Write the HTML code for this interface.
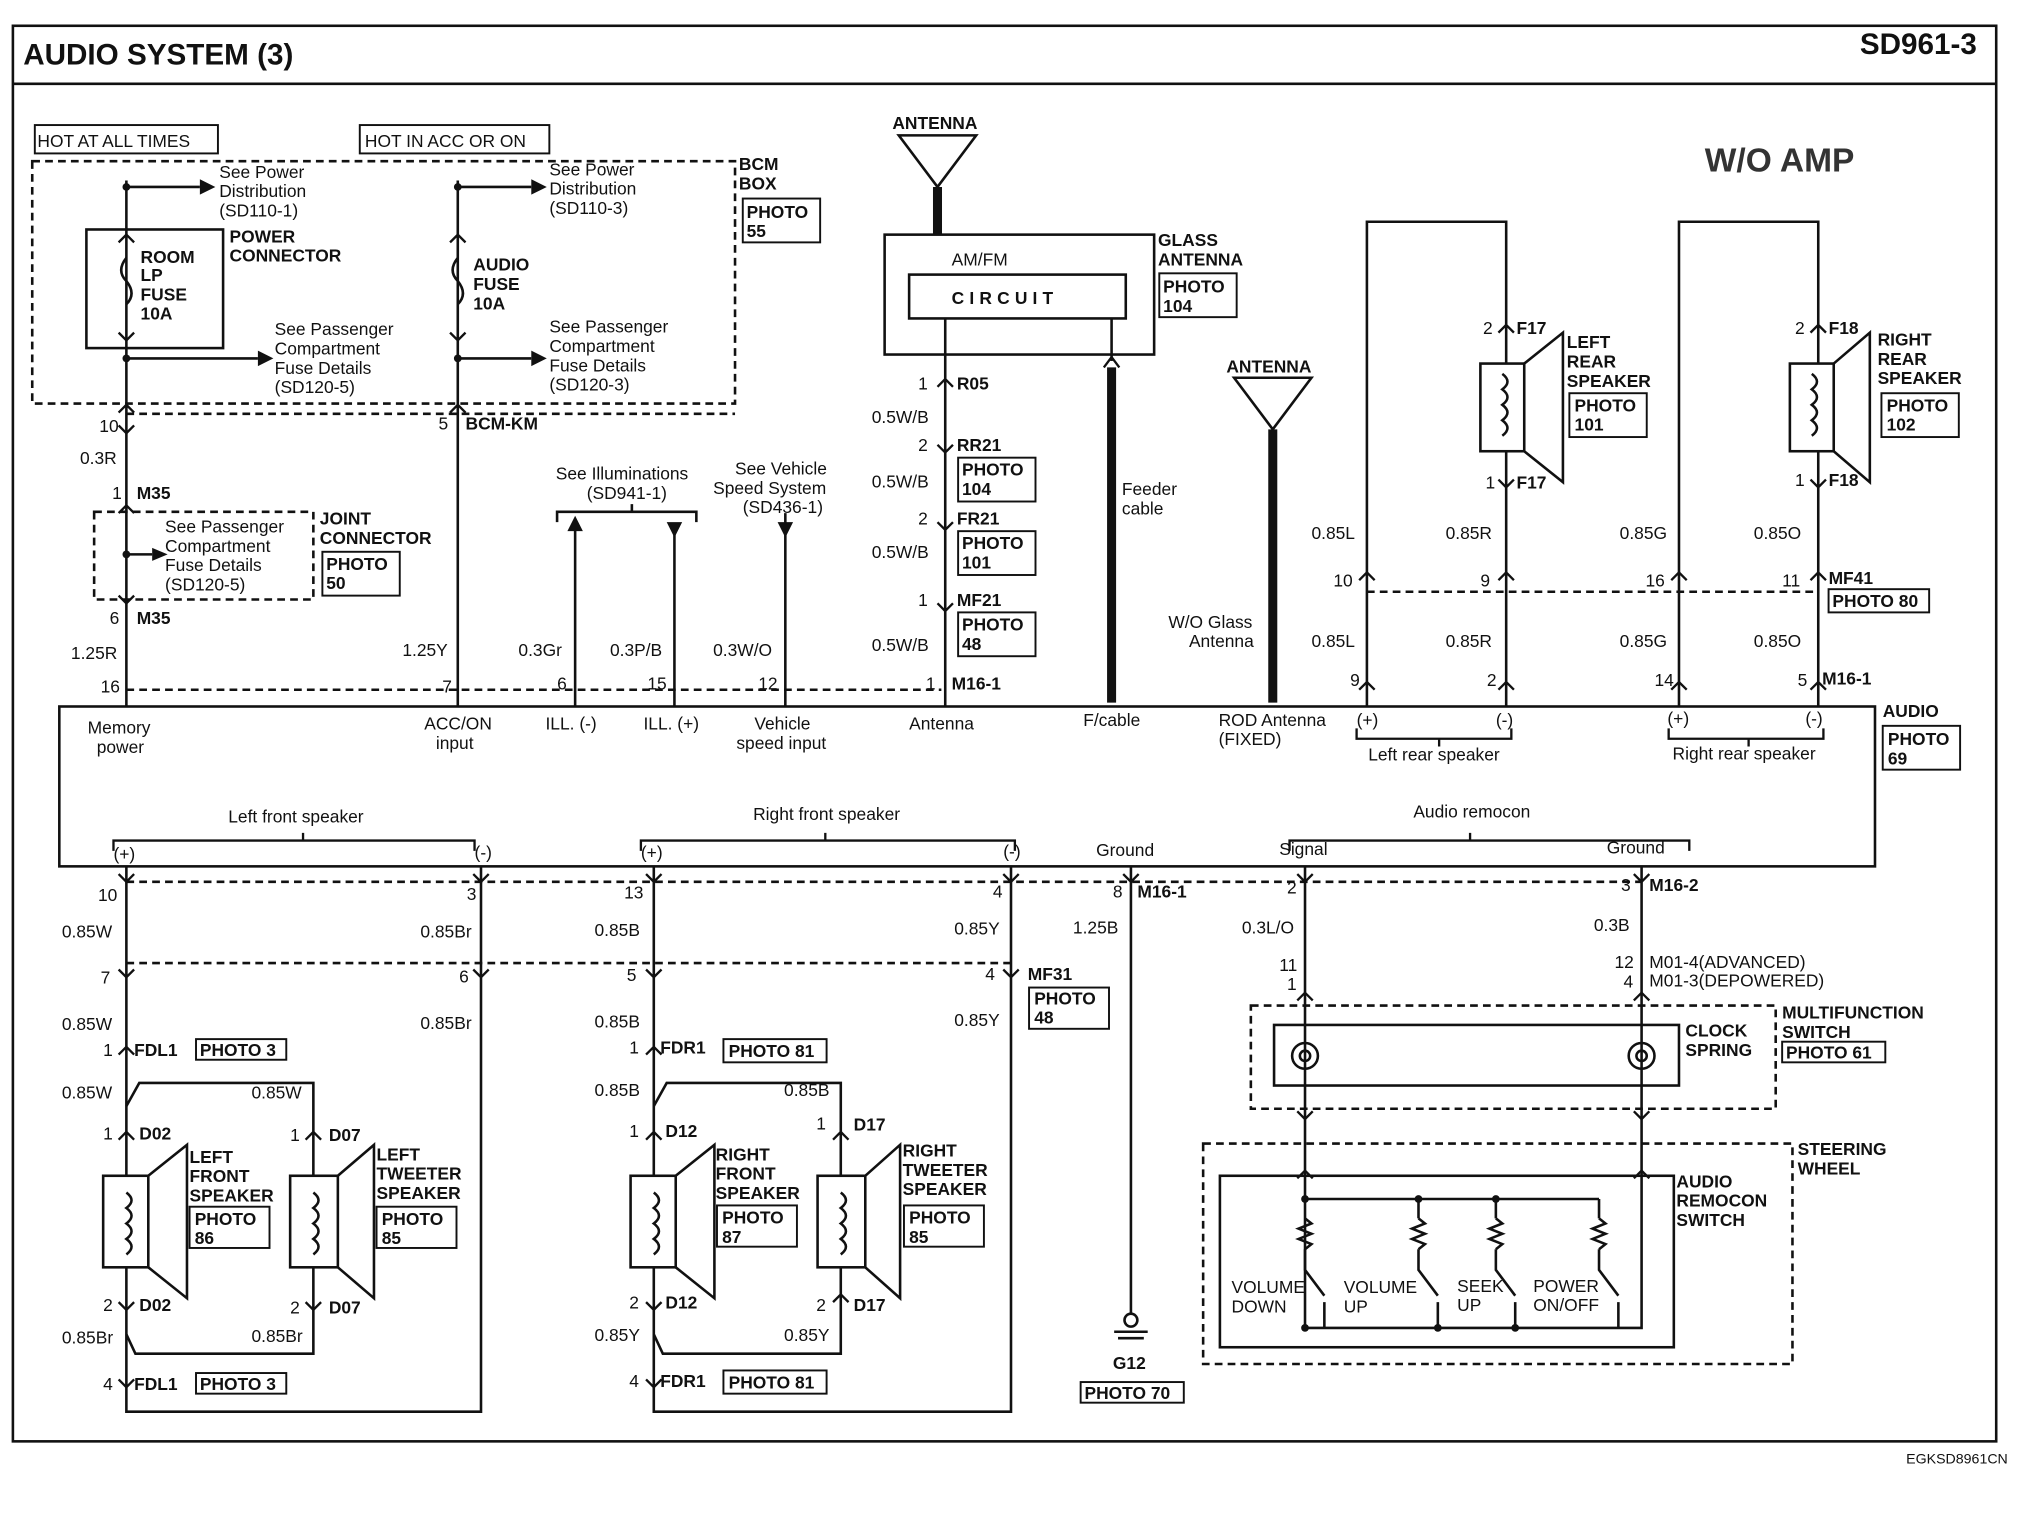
<!DOCTYPE html>
<html><head><meta charset="utf-8"><style>
html,body{margin:0;padding:0;background:#fff}
svg{display:block}
text{font-family:"Liberation Sans",Arial,sans-serif;font-size:13.5px;fill:#111}
.b{font-weight:bold}
</style></head><body>
<svg width="2022" height="1520" viewBox="0 0 1568 1179" preserveAspectRatio="none" xmlns="http://www.w3.org/2000/svg">
<g fill="none" stroke="#111" stroke-width="2">
<rect x="10" y="20" width="1538" height="1098"/>
<line x1="10" y1="65" x2="1548" y2="65"/>
<rect x="27" y="97" width="142" height="22" stroke-width="1.5"/>
<rect x="279" y="97" width="147" height="22" stroke-width="1.5"/>
<rect x="25" y="125" width="545" height="188" stroke-dasharray="6,4"/>
<rect x="67" y="178" width="106" height="92"/>
<line x1="98" y1="140" x2="98" y2="548"/>
<line x1="355" y1="140" x2="355" y2="548"/>
<line x1="98" y1="145" x2="155" y2="145"/><line x1="98" y1="278" x2="200" y2="278"/>
<line x1="355" y1="145" x2="412" y2="145"/><line x1="355" y1="278" x2="412" y2="278"/>
<path d="M355 200 q-8 10 0 18 q8 10 0 18"/>
<path d="M98 200 q-8 10 0 18 q8 10 0 18"/>
<line x1="98" y1="321" x2="570" y2="321" stroke-dasharray="6,4"/>
<rect x="73" y="397" width="170" height="68" stroke-dasharray="6,4"/>
<line x1="98" y1="430" x2="118" y2="430"/>
<line x1="98" y1="535" x2="730" y2="535" stroke-dasharray="6,4"/>
<rect x="46" y="548" width="1408" height="124"/>
<line x1="446" y1="405" x2="446" y2="548"/><line x1="523" y1="410" x2="523" y2="548"/><line x1="609" y1="410" x2="609" y2="548"/>
<path d="M432 405 v-8 h108 v8 M490 397 v-6"/>
<line x1="609" y1="398" x2="609" y2="406"/>
<path d="M697 105 L757 105 L727 145 Z"/>
<line x1="727" y1="145" x2="727" y2="182" stroke-width="7"/>
<rect x="686" y="182" width="209" height="93"/>
<rect x="705" y="213" width="168" height="34"/>
<line x1="733" y1="247" x2="733" y2="548"/>
<line x1="862" y1="247" x2="862" y2="280"/>
<line x1="862" y1="285" x2="862" y2="545" stroke-width="7"/>
<path d="M957 293 L1017 293 L987 333 Z"/>
<line x1="987" y1="333" x2="987" y2="545" stroke-width="7"/>
<path d="M1060 548 V172 H1168 V282 M1168 350 V548"/>
<rect x="1148" y="282" width="34" height="68"/><path d="M1182 282 L1212 258 V374 L1182 350"/>
<path d="M1165 290 q8 6 0 12 q8 6 0 12 q8 6 0 12 q8 6 0 12"/>
<path d="M1302 548 V172 H1410 V282 M1410 350 V548"/>
<rect x="1388" y="282" width="34" height="68"/><path d="M1422 282 L1450 258 V374 L1422 350"/>
<path d="M1405 290 q8 6 0 12 q8 6 0 12 q8 6 0 12 q8 6 0 12"/>
<line x1="1060" y1="459" x2="1410" y2="459" stroke-dasharray="6,4"/>
<line x1="98" y1="684" x2="1273" y2="684" stroke-dasharray="6,4"/>
<line x1="98" y1="747" x2="784" y2="747" stroke-dasharray="6,4"/>
<path d="M98 672 V912 M98 983 V1095 H373 V672"/>
<path d="M98 858 L108 840 H243 V912 M243 983 V1050 H105 L98 1035"/>
<rect x="80" y="912" width="35" height="71"/><path d="M115 912 L145 888 V1007 L115 983"/>
<rect x="225" y="912" width="37" height="71"/><path d="M262 912 L290 888 V1007 L262 983"/>
<path d="M98 925 q8 6 0 12 q8 6 0 12 q8 6 0 12 q8 6 0 12"/>
<path d="M243 925 q8 6 0 12 q8 6 0 12 q8 6 0 12 q8 6 0 12"/>
<path d="M507 672 V912 M507 983 V1095 H784 V672"/>
<path d="M507 858 L517 840 H652 V912 M652 983 V1050 H514 L507 1035"/>
<rect x="489" y="912" width="35" height="71"/><path d="M524 912 L554 888 V1007 L524 983"/>
<rect x="634" y="912" width="37" height="71"/><path d="M671 912 L698 888 V1007 L671 983"/>
<path d="M507 925 q8 6 0 12 q8 6 0 12 q8 6 0 12 q8 6 0 12"/>
<path d="M652 925 q8 6 0 12 q8 6 0 12 q8 6 0 12 q8 6 0 12"/>
<line x1="877" y1="672" x2="877" y2="1020"/>
<circle cx="877" cy="1024" r="5"/><line x1="864" y1="1033" x2="890" y2="1033"/><line x1="867" y1="1038" x2="887" y2="1038"/>
<line x1="1012" y1="672" x2="1012" y2="912"/><line x1="1273" y1="672" x2="1273" y2="912"/>
<rect x="970" y="780" width="407" height="80" stroke-dasharray="6,4"/>
<rect x="988" y="795" width="314" height="47"/>
<circle cx="1012" cy="819" r="10"/><circle cx="1012" cy="819" r="4"/>
<circle cx="1273" cy="819" r="10"/><circle cx="1273" cy="819" r="4"/>
<rect x="933" y="887" width="457" height="171" stroke-dasharray="6,4"/>
<rect x="946" y="912" width="352" height="133"/>
<path d="M1012 912 V1030 H1273 V912"/>
<path d="M1012 930 H1240 M1100 930 V945 M1160 930 V945 M1240 930 V945"/>
<path d="M1012 945 l5 4 l-10 4 l10 4 l-10 4 l10 4 l-5 4 M1100 945 l5 4 l-10 4 l10 4 l-10 4 l10 4 l-5 4 M1160 945 l5 4 l-10 4 l10 4 l-10 4 l10 4 l-5 4 M1240 945 l5 4 l-10 4 l10 4 l-10 4 l10 4 l-5 4"/>
<path d="M1012 969 V985 l15 20 M1100 969 V985 l15 20 M1160 969 V985 l15 20 M1240 969 V985 l15 20 M1027 1010 V1030 M1115 1010 V1030 M1175 1010 V1030 M1255 1010 V1030"/>
<g stroke-width="1.5">
<rect x="576" y="154" width="60" height="34"/><rect x="250" y="428" width="60" height="34"/>
<rect x="899" y="212" width="60" height="34"/><rect x="743" y="355" width="60" height="34"/>
<rect x="743" y="412" width="60" height="34"/><rect x="743" y="475" width="60" height="34"/>
<rect x="1217" y="305" width="60" height="34"/><rect x="1459" y="305" width="60" height="34"/>
<rect x="1418" y="457" width="78" height="18"/><rect x="1460" y="563" width="60" height="34"/>
<rect x="152" y="806" width="70" height="16"/><rect x="152" y="1065" width="70" height="16"/>
<rect x="561" y="806" width="80" height="18"/><rect x="561" y="1063" width="80" height="18"/>
<rect x="147" y="936" width="62" height="32"/><rect x="292" y="936" width="62" height="32"/>
<rect x="556" y="935" width="62" height="32"/><rect x="701" y="935" width="62" height="32"/>
<rect x="798" y="766" width="62" height="32"/><rect x="838" y="1072" width="80" height="16"/>
<rect x="1382" y="808" width="80" height="16"/>
</g>
<g stroke-width="1.8">
<path d="M92 320 l6 -6 l6 6 M92 330 l6 6 l6 -6 M349 320 l6 -6 l6 6"/>
<path d="M92 398 l6 -6 l6 6 M92 462 l6 6 l6 -6 M92 188 l6 -6 l6 6 M92 258 l6 6 l6 -6 M349 188 l6 -6 l6 6 M349 258 l6 6 l6 -6"/>
<path d="M727 300 l6 -6 l6 6 M727 345 l6 6 l6 -6 M727 405 l6 6 l6 -6 M727 468 l6 6 l6 -6"/>
<path d="M1162 258 l6 -6 l6 6 M1162 372 l6 6 l6 -6 M1404 258 l6 -6 l6 6 M1404 372 l6 6 l6 -6 M856 285 l6 -8 l6 8"/>
<path d="M1054 450 l6 -6 l6 6 M1162 450 l6 -6 l6 6 M1296 450 l6 -6 l6 6 M1404 450 l6 -6 l6 6"/>
<path d="M1054 535 l6 -6 l6 6 M1162 535 l6 -6 l6 6 M1296 535 l6 -6 l6 6 M1404 535 l6 -6 l6 6"/>
<path d="M92 678 l6 6 l6 -6 M367 678 l6 6 l6 -6 M501 678 l6 6 l6 -6 M778 678 l6 6 l6 -6 M871 678 l6 6 l6 -6 M1006 678 l6 6 l6 -6 M1267 678 l6 6 l6 -6"/>
<path d="M92 752 l6 6 l6 -6 M367 752 l6 6 l6 -6 M501 752 l6 6 l6 -6 M778 752 l6 6 l6 -6"/>
<path d="M92 818 l6 -6 l6 6 M501 818 l6 -6 l6 6 M92 884 l6 -6 l6 6 M237 884 l6 -6 l6 6 M501 884 l6 -6 l6 6 M646 884 l6 -6 l6 6"/>
<path d="M92 1010 l6 6 l6 -6 M237 1010 l6 6 l6 -6 M501 1010 l6 6 l6 -6 M646 1010 l6 -6 l6 6 M92 1070 l6 6 l6 -6 M501 1070 l6 6 l6 -6"/>
<path d="M1006 776 l6 -6 l6 6 M1267 776 l6 -6 l6 6 M1006 862 l6 6 l6 -6 M1267 862 l6 6 l6 -6 M1006 914 l6 -6 l6 6 M1267 914 l6 -6 l6 6"/>
<path d="M88 660 v-8 h280 v8 M235 652 v-6 M497 660 v-8 h290 v8 M640 652 v-6 M1000 660 v-8 h310 v8 M1140 652 v-6 M1052 565 v8 h120 v-8 M1116 573 v6 M1294 565 v8 h120 v-8 M1356 573 v6"/>
</g>
</g>
<g fill="#111">
<path d="M155 139 l12 6 l-12 6z M200 272 l12 6 l-12 6z M412 139 l12 6 l-12 6z M412 272 l12 6 l-12 6z M118 425 l12 5 l-12 5z"/>
<path d="M440 412 l6 -12 l6 12z M517 405 l6 12 l6 -12z M603 405 l6 12 l6 -12z"/>
<circle cx="98" cy="145" r="3"/><circle cx="355" cy="145" r="3"/><circle cx="98" cy="278" r="3"/><circle cx="355" cy="278" r="3"/><circle cx="98" cy="430" r="3"/>
<circle cx="1012" cy="930" r="3"/><circle cx="1100" cy="930" r="3"/><circle cx="1160" cy="930" r="3"/><circle cx="1012" cy="1030" r="3"/><circle cx="1115" cy="1030" r="3"/><circle cx="1175" cy="1030" r="3"/>
</g>
<text x="18" y="50" class="b" style="font-size:23px">AUDIO SYSTEM (3)</text>
<text x="1533" y="42" class="b" text-anchor="end" style="font-size:23px">SD961-3</text>
<text x="1322" y="133" class="b" style="font-size:26px;fill:#333">W/O AMP</text>
<text x="1557" y="1135" text-anchor="end" style="font-size:11px">EGKSD8961CN</text>
<text x="29" y="114">HOT AT ALL TIMES</text><text x="283" y="114">HOT IN ACC OR ON</text>
<text x="170" y="138">See Power</text><text x="170" y="153">Distribution</text><text x="170" y="168">(SD110-1)</text>
<text x="426" y="136">See Power</text><text x="426" y="151">Distribution</text><text x="426" y="166">(SD110-3)</text>
<text x="573" y="132" class="b">BCM</text><text x="573" y="147" class="b">BOX</text>
<text x="579" y="169" class="b">PHOTO</text><text x="579" y="184" class="b">55</text>
<text x="178" y="188" class="b">POWER</text><text x="178" y="203" class="b">CONNECTOR</text>
<text x="109" y="204" class="b">ROOM</text><text x="109" y="218" class="b">LP</text><text x="109" y="233" class="b">FUSE</text><text x="109" y="248" class="b">10A</text>
<text x="367" y="210" class="b">AUDIO</text><text x="367" y="225" class="b">FUSE</text><text x="367" y="240" class="b">10A</text>
<text x="213" y="260">See Passenger</text><text x="213" y="275">Compartment</text><text x="213" y="290">Fuse Details</text><text x="213" y="305">(SD120-5)</text>
<text x="426" y="258">See Passenger</text><text x="426" y="273">Compartment</text><text x="426" y="288">Fuse Details</text><text x="426" y="303">(SD120-3)</text>
<text x="77" y="335">10</text><text x="340" y="333">5</text><text x="361" y="333" class="b">BCM-KM</text>
<text x="62" y="360">0.3R</text><text x="87" y="387">1</text><text x="106" y="387" class="b">M35</text>
<text x="128" y="413">See Passenger</text><text x="128" y="428">Compartment</text><text x="128" y="443">Fuse Details</text><text x="128" y="458">(SD120-5)</text>
<text x="248" y="407" class="b">JOINT</text><text x="248" y="422" class="b">CONNECTOR</text>
<text x="253" y="442" class="b">PHOTO</text><text x="253" y="457" class="b">50</text>
<text x="85" y="484">6</text><text x="106" y="484" class="b">M35</text>
<text x="55" y="511">1.25R</text><text x="78" y="537">16</text>
<text x="312" y="509">1.25Y</text><text x="343" y="537">7</text>
<text x="431" y="372">See Illuminations</text><text x="455" y="387">(SD941-1)</text>
<text x="570" y="368">See Vehicle</text><text x="553" y="383">Speed System</text><text x="576" y="398">(SD436-1)</text>
<text x="402" y="509">0.3Gr</text><text x="432" y="535">6</text>
<text x="473" y="509">0.3P/B</text><text x="502" y="535">15</text>
<text x="553" y="509">0.3W/O</text><text x="588" y="535">12</text>
<text x="692" y="100" class="b">ANTENNA</text>
<text x="738" y="206">AM/FM</text>
<text x="738" y="236" class="b" style="letter-spacing:4px">CIRCUIT</text>
<text x="898" y="191" class="b">GLASS</text><text x="898" y="206" class="b">ANTENNA</text>
<text x="902" y="227" class="b">PHOTO</text><text x="902" y="242" class="b">104</text>
<text x="712" y="302">1</text><text x="742" y="302" class="b">R05</text>
<text x="676" y="328">0.5W/B</text>
<text x="712" y="350">2</text><text x="742" y="350" class="b">RR21</text>
<text x="746" y="369" class="b">PHOTO</text><text x="746" y="384" class="b">104</text>
<text x="676" y="378">0.5W/B</text>
<text x="712" y="407">2</text><text x="742" y="407" class="b">FR21</text>
<text x="746" y="426" class="b">PHOTO</text><text x="746" y="441" class="b">101</text>
<text x="676" y="433">0.5W/B</text>
<text x="712" y="470">1</text><text x="742" y="470" class="b">MF21</text>
<text x="746" y="489" class="b">PHOTO</text><text x="746" y="504" class="b">48</text>
<text x="676" y="505">0.5W/B</text>
<text x="718" y="535">1</text><text x="738" y="535" class="b">M16-1</text>
<text x="870" y="384">Feeder</text><text x="870" y="399">cable</text>
<text x="951" y="289" class="b">ANTENNA</text>
<text x="906" y="487">W/O Glass</text><text x="922" y="502">Antenna</text>
<text x="1150" y="259">2</text><text x="1176" y="259" class="b">F17</text>
<text x="1215" y="270" class="b">LEFT</text><text x="1215" y="285" class="b">REAR</text><text x="1215" y="300" class="b">SPEAKER</text>
<text x="1221" y="319" class="b">PHOTO</text><text x="1221" y="334" class="b">101</text>
<text x="1152" y="379">1</text><text x="1176" y="379" class="b">F17</text>
<text x="1392" y="259">2</text><text x="1418" y="259" class="b">F18</text>
<text x="1456" y="268" class="b">RIGHT</text><text x="1456" y="283" class="b">REAR</text><text x="1456" y="298" class="b">SPEAKER</text>
<text x="1463" y="319" class="b">PHOTO</text><text x="1463" y="334" class="b">102</text>
<text x="1392" y="377">1</text><text x="1418" y="377" class="b">F18</text>
<text x="1017" y="418">0.85L</text><text x="1121" y="418">0.85R</text><text x="1256" y="418">0.85G</text><text x="1360" y="418">0.85O</text>
<text x="1034" y="455">10</text><text x="1148" y="455">9</text><text x="1276" y="455">16</text><text x="1382" y="455">11</text>
<text x="1418" y="453" class="b">MF41</text><text x="1421" y="471" class="b">PHOTO 80</text>
<text x="1017" y="502">0.85L</text><text x="1121" y="502">0.85R</text><text x="1256" y="502">0.85G</text><text x="1360" y="502">0.85O</text>
<text x="1047" y="532">9</text><text x="1153" y="532">2</text><text x="1283" y="532">14</text><text x="1394" y="532">5</text>
<text x="1413" y="531" class="b">M16-1</text>
<text x="1460" y="556" class="b">AUDIO</text><text x="1464" y="578" class="b">PHOTO</text><text x="1464" y="593" class="b">69</text>
<text x="68" y="569">Memory</text><text x="75" y="584">power</text>
<text x="329" y="566">ACC/ON</text><text x="338" y="581">input</text>
<text x="423" y="566">ILL. (-)</text><text x="499" y="566">ILL. (+)</text>
<text x="585" y="566">Vehicle</text><text x="571" y="581">speed input</text>
<text x="705" y="566">Antenna</text><text x="840" y="563">F/cable</text>
<text x="945" y="563">ROD Antenna</text><text x="945" y="578">(FIXED)</text>
<text x="1052" y="563">(+)</text><text x="1160" y="563">(-)</text><text x="1293" y="562">(+)</text><text x="1400" y="562">(-)</text>
<text x="1061" y="590">Left rear speaker</text><text x="1297" y="589">Right rear speaker</text>
<text x="177" y="638">Left front speaker</text><text x="584" y="636">Right front speaker</text><text x="1096" y="634">Audio remocon</text>
<text x="88" y="667">(+)</text><text x="368" y="666">(-)</text><text x="497" y="666">(+)</text><text x="778" y="665">(-)</text>
<text x="850" y="664">Ground</text><text x="992" y="663">Signal</text><text x="1246" y="662">Ground</text>
<text x="76" y="699">10</text><text x="362" y="698">3</text><text x="484" y="697">13</text><text x="770" y="696">4</text>
<text x="863" y="696">8</text><text x="882" y="696" class="b">M16-1</text>
<text x="998" y="693">2</text><text x="1257" y="691">3</text><text x="1279" y="691" class="b">M16-2</text>
<text x="48" y="727">0.85W</text><text x="326" y="727">0.85Br</text><text x="461" y="726">0.85B</text><text x="740" y="725">0.85Y</text>
<text x="832" y="724">1.25B</text><text x="963" y="724">0.3L/O</text><text x="1236" y="722">0.3B</text>
<text x="78" y="763">7</text><text x="356" y="762">6</text><text x="486" y="761">5</text><text x="764" y="760">4</text>
<text x="797" y="760" class="b">MF31</text><text x="802" y="779" class="b">PHOTO</text><text x="802" y="794" class="b">48</text>
<text x="992" y="753">11</text><text x="998" y="768">1</text><text x="1252" y="751">12</text><text x="1259" y="766">4</text>
<text x="1279" y="751">M01-4(ADVANCED)</text><text x="1279" y="765">M01-3(DEPOWERED)</text>
<text x="48" y="799">0.85W</text><text x="326" y="798">0.85Br</text><text x="461" y="797">0.85B</text><text x="740" y="796">0.85Y</text>
<text x="80" y="819">1</text><text x="104" y="819" class="b">FDL1</text><text x="155" y="819" class="b">PHOTO 3</text>
<text x="488" y="817">1</text><text x="512" y="817" class="b">FDR1</text><text x="565" y="820" class="b">PHOTO 81</text>
<text x="48" y="852">0.85W</text><text x="195" y="852">0.85W</text><text x="461" y="850">0.85B</text><text x="608" y="850">0.85B</text>
<text x="80" y="884">1</text><text x="108" y="884" class="b">D02</text><text x="225" y="885">1</text><text x="255" y="885" class="b">D07</text>
<text x="488" y="882">1</text><text x="516" y="882" class="b">D12</text><text x="633" y="876">1</text><text x="662" y="877" class="b">D17</text>
<text x="147" y="902" class="b">LEFT</text><text x="147" y="917" class="b">FRONT</text><text x="147" y="932" class="b">SPEAKER</text>
<text x="151" y="950" class="b">PHOTO</text><text x="151" y="965" class="b">86</text>
<text x="292" y="900" class="b">LEFT</text><text x="292" y="915" class="b">TWEETER</text><text x="292" y="930" class="b">SPEAKER</text>
<text x="296" y="950" class="b">PHOTO</text><text x="296" y="965" class="b">85</text>
<text x="555" y="900" class="b">RIGHT</text><text x="555" y="915" class="b">FRONT</text><text x="555" y="930" class="b">SPEAKER</text>
<text x="560" y="949" class="b">PHOTO</text><text x="560" y="964" class="b">87</text>
<text x="700" y="897" class="b">RIGHT</text><text x="700" y="912" class="b">TWEETER</text><text x="700" y="927" class="b">SPEAKER</text>
<text x="705" y="949" class="b">PHOTO</text><text x="705" y="964" class="b">85</text>
<text x="80" y="1017">2</text><text x="108" y="1017" class="b">D02</text><text x="225" y="1019">2</text><text x="255" y="1019" class="b">D07</text>
<text x="488" y="1015">2</text><text x="516" y="1015" class="b">D12</text><text x="633" y="1017">2</text><text x="662" y="1017" class="b">D17</text>
<text x="48" y="1042">0.85Br</text><text x="195" y="1041">0.85Br</text><text x="461" y="1040">0.85Y</text><text x="608" y="1040">0.85Y</text>
<text x="80" y="1078">4</text><text x="104" y="1078" class="b">FDL1</text><text x="155" y="1078" class="b">PHOTO 3</text>
<text x="488" y="1076">4</text><text x="512" y="1076" class="b">FDR1</text><text x="565" y="1077" class="b">PHOTO 81</text>
<text x="863" y="1062" class="b">G12</text><text x="841" y="1085" class="b">PHOTO 70</text>
<text x="1382" y="790" class="b">MULTIFUNCTION</text><text x="1382" y="805" class="b">SWITCH</text><text x="1385" y="821" class="b">PHOTO 61</text>
<text x="1307" y="804" class="b">CLOCK</text><text x="1307" y="819" class="b">SPRING</text>
<text x="1394" y="896" class="b">STEERING</text><text x="1394" y="911" class="b">WHEEL</text>
<text x="1300" y="921" class="b">AUDIO</text><text x="1300" y="936" class="b">REMOCON</text><text x="1300" y="951" class="b">SWITCH</text>
<text x="955" y="1003">VOLUME</text><text x="955" y="1018">DOWN</text>
<text x="1042" y="1003">VOLUME</text><text x="1042" y="1018">UP</text>
<text x="1130" y="1002">SEEK</text><text x="1130" y="1017">UP</text>
<text x="1189" y="1002">POWER</text><text x="1189" y="1017">ON/OFF</text>
</svg>
</body></html>
